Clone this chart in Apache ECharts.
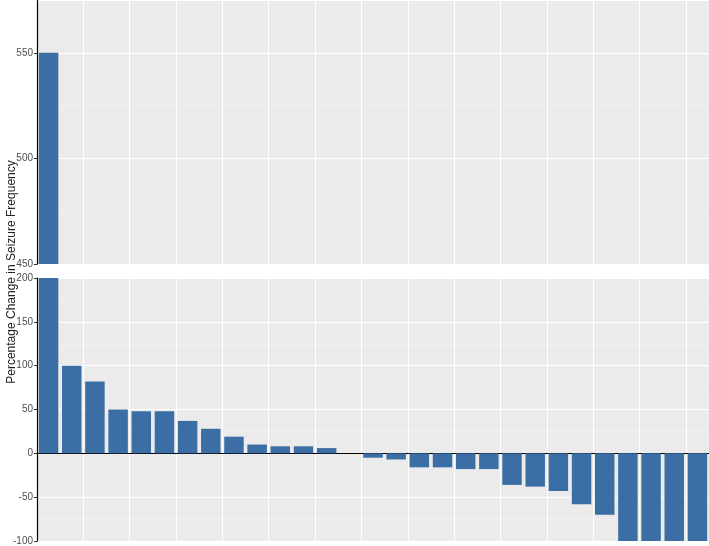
<!DOCTYPE html><html><head><meta charset="utf-8"><script src="https://cdn.jsdelivr.net/npm/echarts@6/dist/echarts.min.js"></script>
<style>html,body{margin:0;padding:0;background:#fff}#c{width:709px;height:546px}</style></head><body><div id="c"></div><script>
const categories=Array.from({length:29},(_,i)=>'P'+(i+1));
const values=[550,100,82,50,48,48,37,28,19,10,8,8,6,0,-5,-7,-16,-16,-18,-18,-36,-38,-43,-58,-70,-100,-100,-100,-100];
const topVals=values.map(v=>v>450?v:null);
const botVals=values.map(v=>Math.min(v,200));
const col='#3a6ea5';
const grids=[{left:37,right:0,top:0,height:264,show:true,backgroundColor:'#ebebeb',borderWidth:0},
{left:37,right:0,top:278,height:264,show:true,backgroundColor:'#ebebeb',borderWidth:0}];
const xa=i=>({type:'category',gridIndex:i,data:categories,axisLabel:{show:false},axisTick:{show:false},
axisLine:{show:i===1,lineStyle:{color:'#000'}},splitLine:{show:true,lineStyle:{color:'#fff',width:1}}});
const ya=(i,min,max)=>({type:'value',gridIndex:i,min:min,max:max,interval:50,
axisLine:{show:true,lineStyle:{color:'#000',width:1.2}},axisTick:{show:true,length:3,lineStyle:{color:'#333'}},
axisLabel:{color:'#4d4d4d',fontSize:10,fontFamily:'Liberation Sans',showMaxLabel:max%50===0,margin:4},
splitLine:{lineStyle:{color:'#fff',width:1.2}},minorTick:{show:false,splitNumber:2},
minorSplitLine:{show:true,lineStyle:{color:'#f5f5f5',width:0.6}}});
const chart=echarts.init(document.getElementById('c'));
chart.setOption({animation:false,grid:grids,xAxis:[xa(0),xa(1)],yAxis:[ya(0,450,575),ya(1,-100,200)],
graphic:[{type:'text',left:3,top:272,rotation:Math.PI/2,style:{text:'Percentage Change in Seizure Frequency',fill:'#222',fontSize:12,fontFamily:'Liberation Sans',align:'center',verticalAlign:'middle'},x:12,y:272,left:null,top:null}],
series:[{type:'bar',xAxisIndex:0,yAxisIndex:0,data:topVals,barWidth:'84%',itemStyle:{color:col}},
{type:'bar',xAxisIndex:1,yAxisIndex:1,data:botVals,barWidth:'84%',itemStyle:{color:col}}]});
</script></body></html>
